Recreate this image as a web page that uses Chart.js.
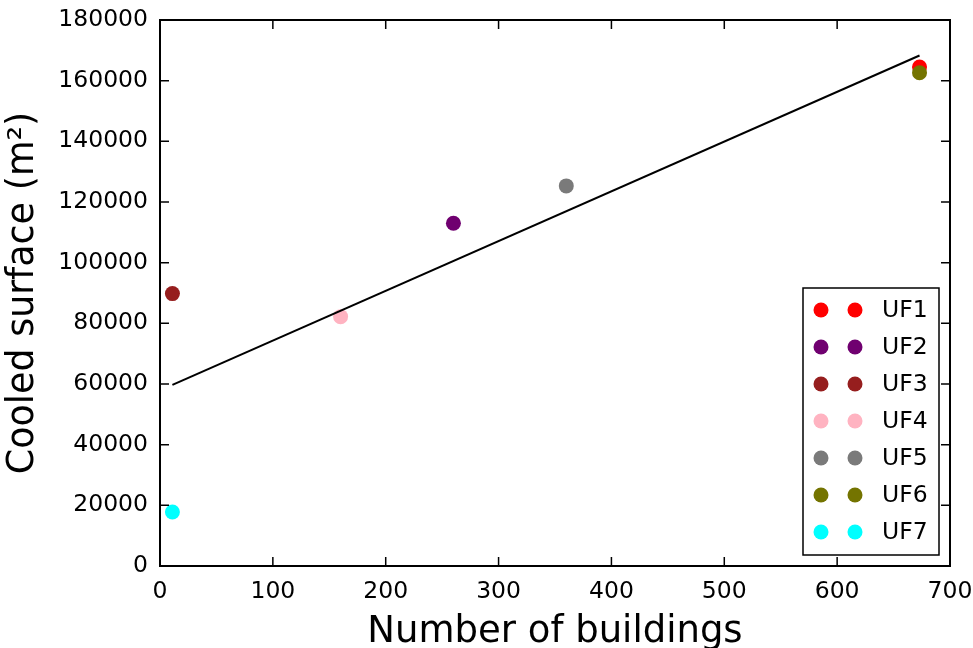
<!DOCTYPE html>
<html>
<head>
<meta charset="utf-8">
<script src="https://cdn.jsdelivr.net/npm/chart.js@4/dist/chart.umd.min.js"></script>
<style>
  html, body { margin: 0; padding: 0; background: #fff; }
  #wrap { width: 973px; height: 648px; }
</style>
</head>
<body>
<div id="wrap"><canvas id="chart"></canvas></div>
<script>
// values
var names = ['UF1', 'UF2', 'UF3', 'UF4', 'UF5', 'UF6', 'UF7'],
    buildings = [673, 260, 11, 160, 360, 673, 11],
    surface = [164500, 113000, 89800, 82200, 125300, 162600, 17800],
    colors = ['#ff0000', '#700070', '#961e1e', '#ffb3c1', '#7a7a7a', '#747400', '#00ffff'],
    fitX = [11, 673],
    fitY = [59700, 168300],
    xTicks = [0, 100, 200, 300, 400, 500, 600, 700],
    yTicks = [0, 20000, 40000, 60000, 80000, 100000, 120000, 140000, 160000, 180000];

Chart.defaults.font.family = 'DejaVu Sans';
Chart.defaults.color = '#000';

var datasets = [];
for (var i = 0; i < names.length; i++) {
    datasets.push({
        type: 'scatter',
        label: names[i],
        data: [{ x: buildings[i], y: surface[i] }],
        backgroundColor: colors[i],
        borderWidth: 0,
        pointRadius: 7.5,
        order: 10 - i
    });
}
datasets.push({
    type: 'line',
    label: 'fit',
    data: fitX.map(function (x, k) { return { x: x, y: fitY[k] }; }),
    borderColor: '#000',
    borderWidth: 2,
    pointRadius: 0,
    showLine: true,
    fill: false,
    order: 0
});

// frame with inward ticks on all four sides + matplotlib-like legend
var framePlugin = {
    id: 'frame',
    afterDraw: function (chart) {
        var ctx = chart.ctx, a = chart.chartArea,
            xs = chart.scales.x, ys = chart.scales.y, t = 9;
        ctx.save();
        ctx.strokeStyle = '#000';
        ctx.lineWidth = 1.5;
        ctx.beginPath();
        xTicks.forEach(function (v) {
            var px = xs.getPixelForValue(v);
            ctx.moveTo(px, a.bottom); ctx.lineTo(px, a.bottom - t);
            ctx.moveTo(px, a.top); ctx.lineTo(px, a.top + t);
        });
        yTicks.forEach(function (v) {
            var py = ys.getPixelForValue(v);
            ctx.moveTo(a.left, py); ctx.lineTo(a.left + t, py);
            ctx.moveTo(a.right, py); ctx.lineTo(a.right - t, py);
        });
        ctx.stroke();
        ctx.lineWidth = 2;
        ctx.strokeRect(a.left, a.top, a.right - a.left, a.bottom - a.top);

        // legend box, lower right
        var bx = 803, by = 288, bw = 136, bh = 267, row = 37;
        ctx.fillStyle = '#fff';
        ctx.fillRect(bx, by, bw, bh);
        ctx.lineWidth = 1.5;
        ctx.strokeRect(bx, by, bw, bh);
        ctx.font = '23.5px "DejaVu Sans"';
        ctx.textBaseline = 'middle';
        names.forEach(function (n, k) {
            var y = by + 22 + k * row;
            ctx.fillStyle = colors[k];
            [821, 855].forEach(function (x) {
                ctx.beginPath();
                ctx.arc(x, y, 7.5, 0, Math.PI * 2);
                ctx.fill();
            });
            ctx.fillStyle = '#000';
            ctx.fillText(n, 882, y + 1);
        });
        ctx.restore();
    }
};

new Chart(document.getElementById('chart'), {
    data: { datasets: datasets },
    options: {
        responsive: true,
        maintainAspectRatio: false,
        animation: false,
        layout: { padding: { top: 20, right: 23, left: 0, bottom: 0 } },
        plugins: { legend: { display: false }, tooltip: { enabled: false } },
        scales: {
            x: {
                type: 'linear',
                min: 0, max: 700,
                afterFit: function (s) { s.height = 82; s.paddingLeft = 0; s.paddingRight = 0; },
                afterBuildTicks: function (s) { s.ticks = xTicks.map(function (v) { return { value: v }; }); },
                grid: { display: false, drawTicks: false },
                border: { display: false },
                ticks: { font: { size: 23.5 }, padding: 12, maxRotation: 0, callback: function (v) { return v; } },
                title: { display: true, text: 'Number of buildings', font: { size: 37 }, padding: { top: 0, bottom: -7 } }
            },
            y: {
                type: 'linear',
                min: 0, max: 180000,
                afterFit: function (s) { s.width = 160; s.paddingTop = 0; s.paddingBottom = 0; },
                afterBuildTicks: function (s) { s.ticks = yTicks.map(function (v) { return { value: v }; }); },
                grid: { display: false, drawTicks: false },
                border: { display: false },
                ticks: { font: { size: 23.5 }, padding: 12, callback: function (v) { return v; } },
                title: { display: true, text: 'Cooled surface (m²)', font: { size: 36.5 }, padding: { top: 2, bottom: 0 } }
            }
        }
    },
    plugins: [framePlugin]
});
</script>
</body>
</html>
